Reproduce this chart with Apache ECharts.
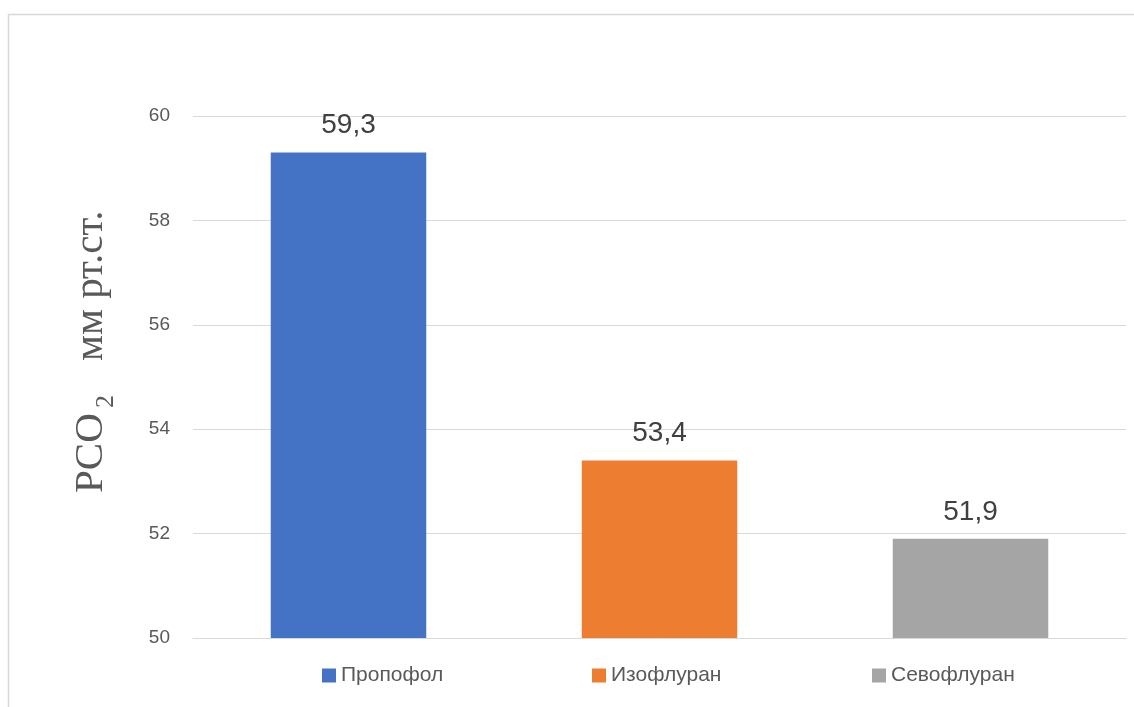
<!DOCTYPE html>
<html>
<head>
<meta charset="utf-8">
<script src="https://cdn.jsdelivr.net/npm/echarts@6/dist/echarts.min.js"></script>
<style>
html,body{margin:0;padding:0;background:#fff;}
#chart{width:1134px;height:707px;}
</style>
</head>
<body>
<div id="chart"></div>
<script>
const categories = ['Пропофол', 'Изофлуран', 'Севофлуран'];
const values = [59.3, 53.4, 51.9];
const colors = ['#4472C4', '#ED7D31', '#A5A5A5'];
const yTicks = { min: 50, max: 60, interval: 2 };
const legendLeft = [317, 587, 867];

const chart = echarts.init(document.getElementById('chart'));
const font = '"Liberation Sans", Arial, sans-serif';
const serif = '"Liberation Serif", "Times New Roman", serif';

const series = categories.map((name, i) => ({
  name: name,
  type: 'bar',
  stack: 'all',
  barWidth: '50%',
  itemStyle: { color: colors[i] },
  label: {
    show: true,
    position: 'top',
    distance: 13,
    fontFamily: font,
    fontSize: 28,
    color: '#404040',
    formatter: p => String(p.value).replace('.', ',')
  },
  data: categories.map((c, j) => (j === i ? values[i] : '-'))
}));

chart.setOption({
  animation: false,
  backgroundColor: '#fff',
  grid: { left: 193, right: 8, top: 116, bottom: 69 },
  xAxis: {
    type: 'category',
    data: categories,
    axisLine: { show: true, lineStyle: { color: '#D9D9D9', width: 1 } },
    axisTick: { show: false },
    axisLabel: { show: false }
  },
  yAxis: {
    type: 'value',
    min: yTicks.min,
    max: yTicks.max,
    interval: yTicks.interval,
    axisLine: { show: false },
    axisTick: { show: false },
    axisLabel: { fontFamily: font, fontSize: 19, color: '#595959', margin: 23 },
    splitLine: { lineStyle: { color: '#D9D9D9', width: 1 } }
  },
  legend: categories.map((c, i) => ({
    data: [c],
    left: legendLeft[i],
    top: 660,
    icon: 'rect',
    itemWidth: 14,
    itemHeight: 14,
    itemGap: 6,
    textStyle: { fontFamily: font, fontSize: 21, color: '#595959', padding: [0, 0, 0, 0] }
  })),
  graphic: [
    {
      type: 'rect',
      shape: { x: 8.5, y: 14.5, width: 1300, height: 900 },
      style: { fill: 'none', stroke: '#D9D9D9', lineWidth: 1.5 },
      silent: true
    },
    {
      type: 'text', x: 91, y: 493, rotation: Math.PI / 2,
      style: { text: 'PCO', font: '41px ' + serif, fill: '#595959', textAlign: 'left', textVerticalAlign: 'middle' }
    },
    {
      type: 'text', x: 106, y: 408, rotation: Math.PI / 2,
      style: { text: '2', font: '26px ' + serif, fill: '#595959', textAlign: 'left', textVerticalAlign: 'middle' }
    },
    {
      type: 'text', x: 91, y: 361, rotation: Math.PI / 2,
      style: { text: 'мм рт.ст.', font: '41px ' + serif, fill: '#595959', textAlign: 'left', textVerticalAlign: 'middle' }
    }
  ],
  series: series
});
</script>
</body>
</html>
